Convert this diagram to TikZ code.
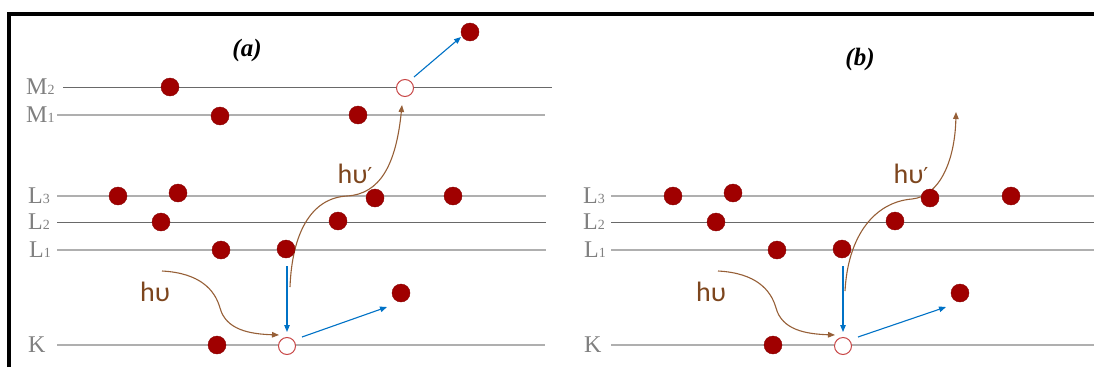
\documentclass[tikz,border=0pt]{standalone}
\usepackage{fontspec}
\setmainfont{Liberation Serif}
\newfontfamily\hvfont{Carlito}
\newfontfamily\primefont{DejaVu Sans}
\usetikzlibrary{arrows.meta,calc}
\definecolor{elec}{RGB}{160,0,0}
\definecolor{holec}{RGB}{200,70,70}
\definecolor{bluearr}{RGB}{0,114,198}
\definecolor{browncur}{RGB}{150,95,55}
\definecolor{browntxt}{RGB}{125,70,30}
\definecolor{lvllight}{RGB}{175,175,175}
\definecolor{lvldark}{RGB}{105,105,105}
\definecolor{lbl}{RGB}{128,128,128}
\newcommand\lsub[1]{{\fontsize{14}{14}\selectfont #1}}
\newcommand\hvp{h\char"03C5{\primefont\fontsize{22}{22}\selectfont\char"2032}}
\pgfdeclarelayer{bglayer}
\pgfdeclarelayer{midlayer}
\pgfsetlayers{bglayer,midlayer,main}
\begin{document}
\begin{tikzpicture}[x=1pt,y=-1pt,
 electron/.style={circle,fill=elec,draw=elec!85!black,line width=0.4pt,minimum size=18pt,inner sep=0pt},
 hole/.style={circle,fill=white,draw=holec,line width=1pt,minimum size=17pt,inner sep=0pt},
 level/.style={draw=lvllight,line width=1.6pt},
 leveldark/.style={draw=lvldark,line width=1pt},
 lvllabel/.style={text=lbl,font=\fontsize{24}{24}\selectfont,anchor=west,inner sep=0pt},
 emit/.style={draw=bluearr,line width=1.1pt,-{Triangle[length=7pt,width=5.5pt]}},
 photon/.style={draw=browncur,line width=1.1pt,-{Triangle[length=7pt,width=5.5pt]}},
 hvlabel/.style={text=browntxt,font=\hvfont\fontsize{28}{28}\selectfont,inner sep=0pt},
 panellabel/.style={font=\bfseries\itshape\fontsize{25}{25}\selectfont,inner sep=0pt},
 frameline/.style={line width=4pt,draw=black}]
\useasboundingbox (0,0) rectangle (1094,367);

% ---------- frame ----------
\draw[frameline] (9,367) -- (9,14) -- (1094,14);

% ---------- panel labels ----------
\node[panellabel] (pa) at (247,50) {(a)};
\node[panellabel] (pb) at (860,59) {(b)};

% ---------- level labels ----------
\node[lvllabel] (a-lm2) at (26,87) {M\lsub{2}};
\node[lvllabel] (a-lm1) at (26,115) {M\lsub{1}};
\node[lvllabel] (a-ll3) at (28,196) {L\lsub{3}};
\node[lvllabel] (a-ll2) at (28,222) {L\lsub{2}};
\node[lvllabel] (a-ll1) at (29,250) {L\lsub{1}};
\node[lvllabel] (a-lk)  at (28,345) {K};
\node[lvllabel] (b-ll3) at (583,196) {L\lsub{3}};
\node[lvllabel] (b-ll2) at (583,222) {L\lsub{2}};
\node[lvllabel] (b-ll1) at (584,250) {L\lsub{1}};
\node[lvllabel] (b-lk)  at (584,345) {K};

% ---------- electrons and holes: panel (a) ----------
\node[electron] (a-m2a) at (170,87) {};
\node[hole]     (a-m2h) at (405,88) {};
\node[electron] (a-out) at (470,32) {};
\node[electron] (a-m1a) at (220,116) {};
\node[electron] (a-m1b) at (358,115) {};
\node[electron] (a-l3a) at (118,196) {};
\node[electron] (a-l3b) at (178,193) {};
\node[electron] (a-l3c) at (375,198) {};
\node[electron] (a-l3d) at (453,196) {};
\node[electron] (a-l2a) at (161,222) {};
\node[electron] (a-l2b) at (338,221) {};
\node[electron] (a-l1a) at (221,250) {};
\node[electron] (a-l1b) at (286,249) {};
\node[electron] (a-ka)  at (217,345) {};
\node[hole]     (a-kh)  at (287,346) {};
\node[electron] (a-ej)  at (401,293) {};

% ---------- electrons and holes: panel (b) ----------
\node[electron] (b-l3a) at (673,196) {};
\node[electron] (b-l3b) at (733,193) {};
\node[electron] (b-l3c) at (930,198) {};
\node[electron] (b-l3d) at (1011,196) {};
\node[electron] (b-l2a) at (716,222) {};
\node[electron] (b-l2b) at (895,221) {};
\node[electron] (b-l1a) at (777,250) {};
\node[electron] (b-l1b) at (842,249) {};
\node[electron] (b-ka)  at (773,345) {};
\node[hole]     (b-kh)  at (843,346) {};
\node[electron] (b-ej)  at (960,293) {};

% ---------- text labels ----------
\node[hvlabel] (a-hv)  at (155,292) {h\char"03C5};
\node[hvlabel] (a-hvp) at (355,174) {\hvp};
\node[hvlabel] (b-hv)  at (711,292) {h\char"03C5};
\node[hvlabel] (b-hvp) at (911,174) {\hvp};

% ---------- free ends ----------
\coordinate (a-hvs)  at (162,271);
\coordinate (a-hvps) at (290,287);
\coordinate (b-hvs)  at (718,271);
\coordinate (b-hvps) at (845,291);
\coordinate (b-hvpe) at (956,112);

% ---------- level lines ----------
\begin{pgfonlayer}{bglayer}
\draw[leveldark] (63,87)  -- (552,87);
\draw[level]     (57,115) -- (545,115);
\draw[level]     (57,196) -- (546,196);
\draw[leveldark] (57,222) -- (546,222);
\draw[level]     (57,250) -- (546,250);
\draw[level]     (57,345) -- (545,345);
\draw[level]     (611,196) -- (1094,196);
\draw[leveldark] (611,222) -- (1094,222);
\draw[level]     (611,250) -- (1094,250);
\draw[level]     (611,345) -- (1094,345);
\end{pgfonlayer}

% ---------- connectors ----------
\begin{pgfonlayer}{midlayer}
% panel (a)
\draw[photon] (a-hvs) .. controls (200,273) and (215,290) .. (220,308)
   .. controls (226,330) and (250,334) .. ($(a-kh)+(-8,-11)$);
\draw[emit] ($(a-l1b)+(1,17)$) -- ($(a-kh)+(0,-14)$);
\draw[emit] ($(a-kh)+(15,-9)$) -- ($(a-ej)+(-14,14)$);
\draw[photon] (a-hvps) .. controls (292,235) and (310,198) .. (347,196)
   .. controls (380,194) and (396,165) .. ($(a-m2h)+(-3,17)$);
\draw[emit] ($(a-m2h)+(9,-11)$) -- ($(a-out)+(-9,5)$);
% panel (b)
\draw[photon] (b-hvs) .. controls (756,273) and (771,290) .. (776,308)
   .. controls (782,330) and (806,334) .. ($(b-kh)+(-8,-11)$);
\draw[emit] ($(b-l1b)+(1,17)$) -- ($(b-kh)+(0,-14)$);
\draw[emit] ($(b-kh)+(15,-9)$) -- ($(b-ej)+(-14,14)$);
\draw[photon] (b-hvps) .. controls (848,235) and (875,202) .. (912,199)
   .. controls (940,196) and (955,160) .. (b-hvpe);
\end{pgfonlayer}
\end{tikzpicture}
\end{document}
